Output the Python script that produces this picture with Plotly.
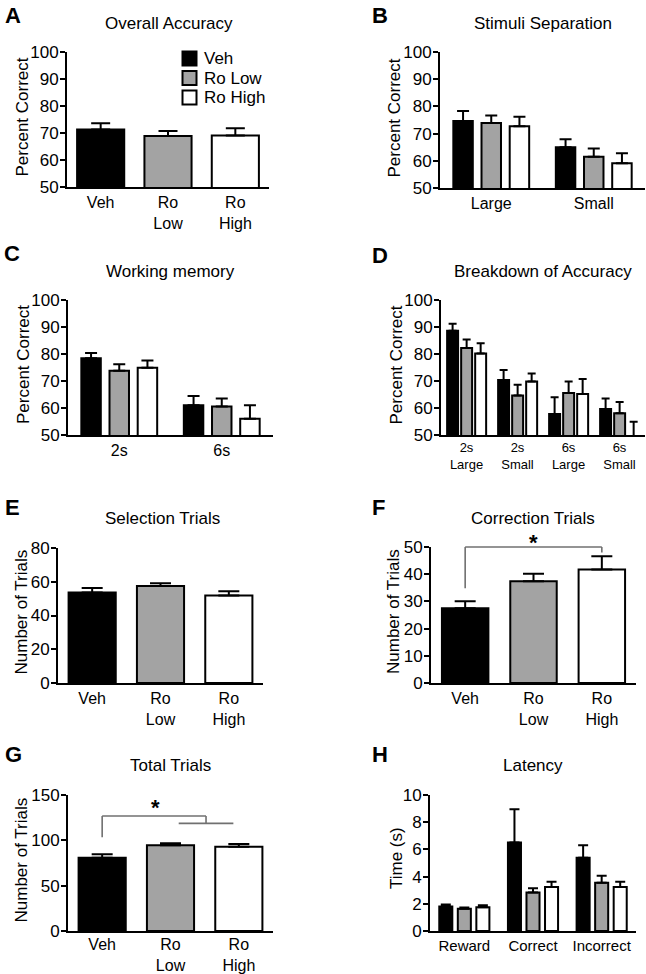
import plotly.graph_objects as go

W, H = 646, 974
FONT = "Arial, 'Liberation Sans', Helvetica, sans-serif"

groups = ["Veh", "Ro Low", "Ro High"]
fills = ["#000000", "#a3a3a3", "#ffffff"]

# ---------------- data ----------------
a_cats = ["Veh", "Ro<br>Low", "Ro<br>High"]
a_vals = [71.3, 68.9, 69.1]
a_err = [2.3, 1.8, 2.7]

b_cats = ["Large", "Small"]
b_vals = {"Veh": [74.6, 65.0], "Ro Low": [73.9, 61.5], "Ro High": [72.7, 59.1]}
b_err = {"Veh": [3.7, 2.9], "Ro Low": [2.8, 3.0], "Ro High": [3.5, 3.7]}

c_cats = ["2s", "6s"]
c_vals = {"Veh": [78.4, 61.0], "Ro Low": [73.8, 60.6], "Ro High": [74.9, 56.0]}
c_err = {"Veh": [2.0, 3.4], "Ro Low": [2.4, 2.9], "Ro High": [2.7, 5.0]}

d_cats = ["2s<br>Large", "2s<br>Small", "6s<br>Large", "6s<br>Small"]
d_vals = {"Veh": [88.6, 70.4, 57.8, 59.6], "Ro Low": [82.2, 64.6, 65.6, 58.1],
          "Ro High": [80.2, 69.8, 65.2, 48.5]}
d_err = {"Veh": [2.6, 3.7, 6.2, 3.9], "Ro Low": [3.2, 4.0, 4.2, 4.1],
         "Ro High": [3.8, 3.0, 5.5, 6.4]}

e_cats = ["Veh", "Ro<br>Low", "Ro<br>High"]
e_vals = [53.7, 57.5, 51.8]
e_err = [2.6, 1.6, 2.5]

f_cats = ["Veh", "Ro<br>Low", "Ro<br>High"]
f_vals = [27.5, 37.4, 41.7]
f_err = [2.6, 2.8, 4.9]
f_bracket = {"left_low": 34.8, "top": 50.0, "right_low": 48.0, "star": 52.6}

g_cats = ["Veh", "Ro<br>Low", "Ro<br>High"]
g_vals = [80.9, 94.5, 93.0]
g_err = [3.7, 2.2, 3.0]
g_bracket = {"left_low": 103.3, "top": 126.8, "right_low": 118.7, "star": 139.0}

h_cats = ["Reward", "Correct", "Incorrect"]
h_vals = {"Veh": [1.81, 6.5, 5.39], "Ro Low": [1.64, 2.84, 3.55], "Ro High": [1.74, 3.24, 3.24]}
h_err = {"Veh": [0.13, 2.45, 0.91], "Ro Low": [0.08, 0.30, 0.52], "Ro High": [0.15, 0.39, 0.39]}

# ---------------- layout helpers ----------------
def px_x(p):
    return p / W

def px_y(p):
    return 1 - p / H

# panel: (x0,x1,ytop,ybot) in pixels
panels = {
    1: dict(px=(67, 269, 52, 187), yr=(50, 100), dt=10),
    2: dict(px=(440, 645, 52, 188), yr=(50, 100), dt=10),
    3: dict(px=(68, 273, 300, 435), yr=(50, 100), dt=10),
    4: dict(px=(441, 645, 300, 435), yr=(50, 100), dt=10),
    5: dict(px=(58, 263, 548, 683), yr=(0, 80), dt=20),
    6: dict(px=(431, 636, 547, 683), yr=(0, 50), dt=10),
    7: dict(px=(68, 273, 795, 931), yr=(0, 150), dt=50),
    8: dict(px=(430, 636, 795, 931), yr=(0, 10), dt=2),
}

fig = go.Figure()

def err(arr, cap):
    return dict(type="data", array=arr, arrayminus=[0] * len(arr), symmetric=False,
                color="black", thickness=2, width=cap, visible=True)

def single(k, cats, vals, errs, width, cap):
    sx = "" if k == 1 else str(k)
    for i, g in enumerate(groups):
        fig.add_trace(go.Bar(
            x=[cats[i]], y=[vals[i]], name=g, width=width,
            marker=dict(color=fills[i], line=dict(color="black", width=2)),
            error_y=err([errs[i]], cap),
            xaxis="x" + sx, yaxis="y" + sx, showlegend=False,
        ))

def grouped(k, cats, vals, errs, offsets, width, cap):
    for i, g in enumerate(groups):
        fig.add_trace(go.Bar(
            x=cats, y=vals[g], name=g, width=width, offset=offsets[i],
            marker=dict(color=fills[i], line=dict(color="black", width=2)),
            error_y=err(errs[g], cap),
            xaxis="x" + str(k), yaxis="y" + str(k), showlegend=False,
        ))

single(1, a_cats, a_vals, a_err, 0.7, 9.5)
grouped(2, b_cats, b_vals, b_err, [-0.37, -0.095, 0.18], 0.19, 6)
grouped(3, c_cats, c_vals, c_err, [-0.37, -0.095, 0.18], 0.19, 6)
grouped(4, d_cats, d_vals, d_err, [-0.38, -0.105, 0.17], 0.215, 4)
single(5, e_cats, e_vals, e_err, 0.69, 10.5)
single(6, f_cats, f_vals, f_err, 0.68, 10.5)
single(7, g_cats, g_vals, g_err, 0.69, 10.5)
grouped(8, h_cats, h_vals, h_err, [-0.365, -0.095, 0.175], 0.19, 5)

cats_by_panel = {1: a_cats, 2: b_cats, 3: c_cats, 4: d_cats, 5: e_cats, 6: f_cats, 7: g_cats, 8: h_cats}
xfont = {4: 13, 8: 15}
xstand = {7: -2, 4: -1}

layout = dict(
    width=W, height=H, margin=dict(l=0, r=0, t=0, b=0, autoexpand=False),
    paper_bgcolor="white", plot_bgcolor="white", showlegend=False,
    barmode="overlay", font=dict(family=FONT, color="black", size=17),
)
for k, p in panels.items():
    x0, x1, yt, yb = p["px"]
    sx = "" if k == 1 else str(k)
    n = len(cats_by_panel[k])
    layout["xaxis" + sx] = dict(
        domain=[px_x(x0), px_x(x1)], anchor="y" + sx, type="category",
        categoryorder="array", categoryarray=cats_by_panel[k],
        range=[-0.5, n - 0.5], showline=True, linecolor="black", linewidth=2,
        ticks="", showgrid=False, zeroline=False, automargin=False,
        ticklabelstandoff=xstand.get(k, 0),
        tickfont=dict(size=xfont.get(k, 16), family=FONT, color="black"),
        fixedrange=True,
    )
    layout["yaxis" + sx] = dict(
        domain=[px_y(yb), px_y(yt)], anchor="x" + sx, range=list(p["yr"]),
        dtick=p["dt"], tick0=0, showline=True, linecolor="black", linewidth=2,
        ticks="outside", ticklen=5, tickwidth=2, tickcolor="black",
        ticklabelstandoff=-2, automargin=False,
        showgrid=False, zeroline=False, tickfont=dict(size=17, family=FONT, color="black"),
        fixedrange=True,
    )
fig.update_layout(**layout)

# legend (panel A)
legend_rows = [58.5, 78, 97.5]
for i, g in enumerate(groups):
    y = legend_rows[i]
    fig.add_shape(type="rect", xref="paper", yref="paper",
                  x0=px_x(182.5), x1=px_x(196.5), y0=px_y(y + 7), y1=px_y(y - 7),
                  fillcolor=fills[i], line=dict(color="black", width=2))
    fig.add_annotation(text=g, x=px_x(202), y=px_y(y), xref="paper", yref="paper",
                       xanchor="left", yanchor="middle", showarrow=False,
                       font=dict(size=17, family=FONT, color="black"))

# panel letters
letters = [("A", 3, 15.5), ("B", 370, 15), ("C", 2, 254), ("D", 370, 255),
           ("E", 3, 507), ("F", 370, 507), ("G", 3, 754), ("H", 370, 754)]
for t, x, y in letters:
    fig.add_annotation(text="<b>%s</b>" % t, x=px_x(x), y=px_y(y), xref="paper", yref="paper",
                       xanchor="left", yanchor="middle", showarrow=False,
                       font=dict(size=22, family=FONT, color="black"))

# titles
titles = [("Overall Accuracy", 169, 23), ("Stimuli Separation", 543, 23),
          ("Working memory", 170, 271), ("Breakdown of Accuracy", 543, 271),
          ("Selection Trials", 162, 518), ("Correction Trials", 533, 518),
          ("Total Trials", 170, 765), ("Latency", 533, 765)]
for t, x, y in titles:
    fig.add_annotation(text=t, x=px_x(x), y=px_y(y), xref="paper", yref="paper",
                       xanchor="center", yanchor="middle", showarrow=False,
                       font=dict(size=17, family=FONT, color="black"))

# y-axis titles
ytitles = [("Percent Correct", 22.5, 117), ("Percent Correct", 394.5, 118),
           ("Percent Correct", 23, 365), ("Percent Correct", 395.5, 365),
           ("Number of Trials", 20.5, 612), ("Number of Trials", 393, 612),
           ("Number of Trials", 20.5, 860), ("Time (s)", 396, 858)]
for t, x, y in ytitles:
    fig.add_annotation(text=t, x=px_x(x), y=px_y(y), xref="paper", yref="paper",
                       xanchor="center", yanchor="middle", showarrow=False, textangle=-90,
                       font=dict(size=17, family=FONT, color="black"))

# significance brackets (y in axis-domain fraction so they are not clipped)
def dom(k, v):
    lo, hi = panels[k]["yr"]
    return (v - lo) / (hi - lo)

BR = dict(color="#707070", width=1.6)

def seg(k, xa, ya, xb, yb):
    sx = str(k)
    fig.add_shape(type="line", xref="x" + sx, yref="y%s domain" % sx,
                  x0=xa, x1=xb, y0=dom(k, ya), y1=dom(k, yb), line=BR)

def star(k, x, v):
    fig.add_annotation(text="<b>*</b>", x=x, y=dom(k, v), xref="x%d" % k,
                       yref="y%d domain" % k, showarrow=False, yshift=12,
                       font=dict(size=22, family=FONT, color="black"))

fb = f_bracket
seg(6, 0, fb["left_low"], 0, fb["top"])
seg(6, 0, fb["top"], 2, fb["top"])
seg(6, 2, fb["top"], 2, fb["right_low"])
star(6, 1, fb["star"])

gb = g_bracket
seg(7, 0, gb["left_low"], 0, gb["top"])
seg(7, 0, gb["top"], 1.52, gb["top"])
seg(7, 1.52, gb["top"], 1.52, gb["right_low"])
seg(7, 1.12, gb["right_low"], 1.92, gb["right_low"])
star(7, 0.78, gb["star"])

fig.write_html("out.html", config={"displayModeBar": False},
               post_script="document.body.style.margin='0';")
